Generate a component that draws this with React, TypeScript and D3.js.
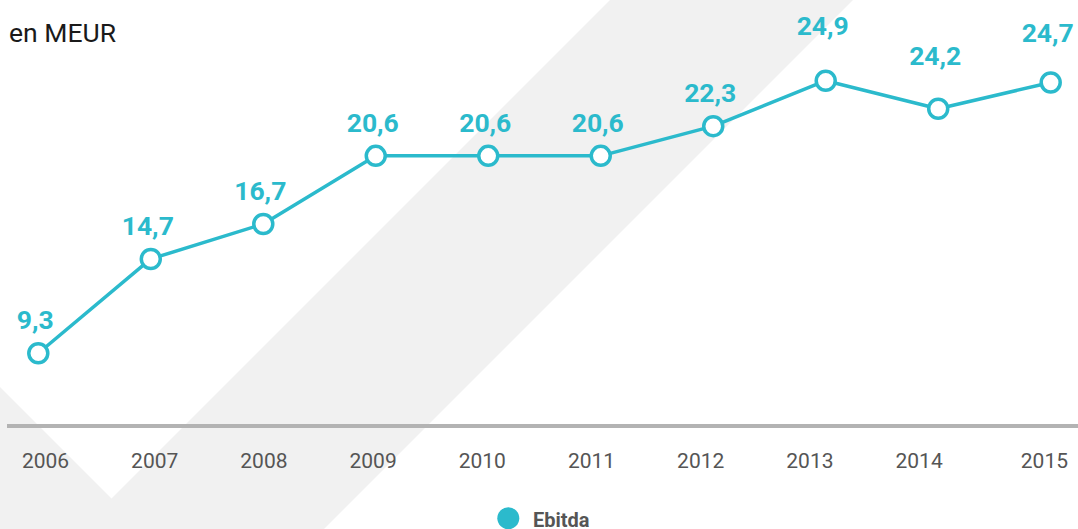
import React from 'react';
import * as d3 from 'd3';

const years = ['2006', '2007', '2008', '2009', '2010', '2011', '2012', '2013', '2014', '2015'];
// plotted values as read from the point positions
const ebitda = [9.3, 14.7, 16.7, 20.6, 20.6, 20.6, 22.3, 24.9, 23.3, 24.8];
// value labels as printed in the chart
const ebitdaLabels = ['9,3', '14,7', '16,7', '20,6', '20,6', '20,6', '22,3', '24,9', '24,2', '24,7'];
const seriesName = 'Ebitda';
const unitLabel = 'en MEUR';

// layout constants
const W = 1078;
const H = 529;
const labelLift = [0, 0, 0, 0, 0, 0, 0, 22, 20, 16];
const TEAL = '#2bbacc';
const FONT = 'Roboto, "Noto Sans", sans-serif';

export default function App() {
  const x = d3.scalePoint<string>().domain(years).range([38.3, 1050.7]);
  const y = d3.scaleLinear().domain([5, 25]).range([428.4, 79]);
  const xLab = d3.scalePoint<string>().domain(years).range([45.5, 1028.3]);

  const line = d3
    .line<number>()
    .x((_, i) => x(years[i]) as number)
    .y((d) => y(d));

  const axisY = 426;

  return (
    <svg
      width={W}
      height={H}
      style={{ position: 'absolute', left: 0, top: 0, display: 'block', background: '#fff' }}
      fontFamily={FONT}
    >
      {/* background check mark */}
      <polygon points="610,0 853,0 253,600 10,600" fill="#f1f1f1" />
      <polygon points="-100,287 250,637 -100,637" fill="#f1f1f1" />

      <text x={9} y={42} fontSize={26.5} fill="#1a1a1a">
        {unitLabel}
      </text>

      <line x1={7} x2={W} y1={axisY} y2={axisY} stroke="#b3b3b3" strokeWidth={4} />

      {years.map((yr, i) => {
        const last = i === years.length - 1;
        return (
          <text
            key={yr}
            x={last ? W - 10 : (xLab(yr) as number)}
            y={468}
            fontSize={21}
            fill="#555"
            textAnchor={last ? 'end' : 'middle'}
          >
            {yr}
          </text>
        );
      })}

      <path d={line(ebitda) || ''} fill="none" stroke={TEAL} strokeWidth={3.5} strokeLinejoin="round" />

      {ebitda.map((v, i) => (
        <circle
          key={'c' + i}
          cx={x(years[i]) as number}
          cy={y(v)}
          r={9.5}
          fill="#fff"
          stroke={TEAL}
          strokeWidth={3.5}
        />
      ))}

      {ebitda.map((v, i) => (
        <text
          key={'l' + i}
          x={(x(years[i]) as number) - 3}
          y={y(v) - 24 - labelLift[i]}
          fontSize={26.5}
          fontWeight={700}
          fill={TEAL}
          textAnchor="middle"
        >
          {ebitdaLabels[i]}
        </text>
      ))}

      <circle cx={508.3} cy={518.3} r={11} fill={TEAL} />
      <text x={533} y={526.5} fontSize={20} fontWeight={700} fill="#555">
        {seriesName}
      </text>
    </svg>
  );
}
